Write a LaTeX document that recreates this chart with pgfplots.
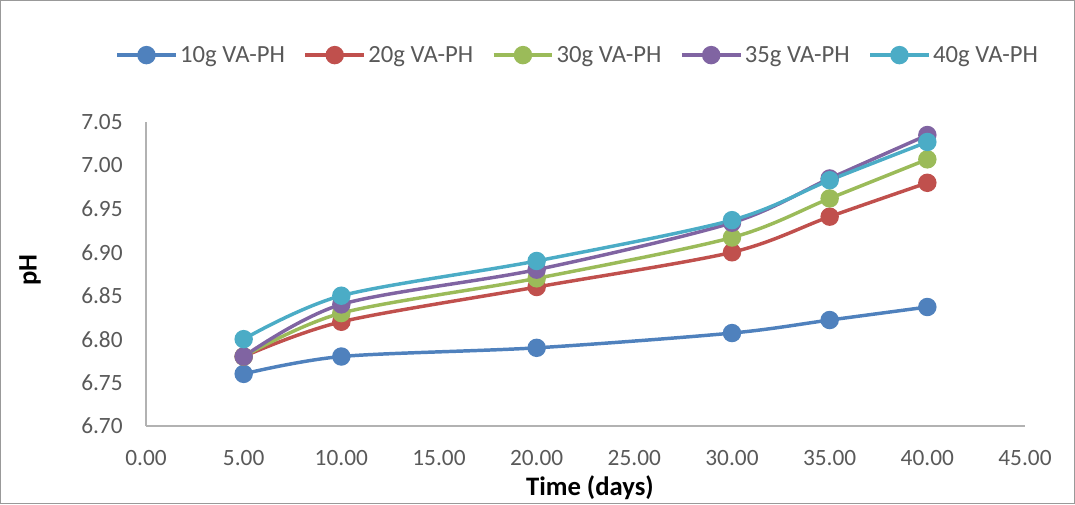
\documentclass[border=0pt]{standalone}
\usepackage{fontspec}
\setmainfont{Carlito}
\usepackage{pgfplots}
\pgfplotsset{compat=1.18}
\definecolor{c1}{HTML}{4F81BD}
\definecolor{c2}{HTML}{C0504D}
\definecolor{c3}{HTML}{9BBB59}
\definecolor{c4}{HTML}{8064A2}
\definecolor{c5}{HTML}{4BACC6}
\definecolor{tk}{HTML}{595959}
\begin{document}
\begin{tikzpicture}
\useasboundingbox (-109.5pt,-58.5pt) rectangle (696.75pt,319.5pt);
\draw[black!40, line width=0.8pt] (-108.9pt,-57.9pt) rectangle (696.15pt,318.9pt);
\begin{axis}[
  scale only axis,
  width=659.25pt, height=228pt,
  xmin=0, xmax=45, ymin=6.70, ymax=7.05,
  xtick={0,5,...,45},
  ytick={6.70,6.75,6.80,6.85,6.90,6.95,7.00,7.05},
  axis x line=bottom, axis y line=left,
  axis line style={black!30, line width=1pt, -},
  major tick length=0pt,
  /pgf/number format/assume math mode=true,
  /pgf/number format/.cd, fixed, fixed zerofill, precision=2, /pgfplots/.cd,
  tick label style={font=\fontsize{17.5}{20}\selectfont, text=tk},
  xticklabel style={yshift=-15pt},
  yticklabel style={xshift=-14pt},
  xlabel={Time (days)}, ylabel={pH},
  label style={font=\fontsize{20}{24}\selectfont\bfseries},
  xlabel style={at={(axis description cs:0.505,-0.204)}, anchor=center},
  ylabel style={at={(axis description cs:-0.132,0.513)}, anchor=center},
  legend columns=5,
  legend style={at={(axis description cs:0.4915,1.22)}, anchor=center, draw=none,
    font=\fontsize{18.5}{22}\selectfont, text=tk,
    /tikz/every even column/.append style={column sep=12pt}},
  legend image code/.code={\draw[mark repeat=2,mark phase=2] plot coordinates {(0pt,0pt)(22pt,0pt)(44pt,0pt)};},
  every axis plot/.append style={line width=2.6pt, mark=*, mark size=5.6pt, smooth, tension=0.5},
]
\addplot[c1, mark options={fill=c1, draw=c1}] coordinates {(5,6.76)(10,6.78)(20,6.79)(30,6.807)(35,6.822)(40,6.837)};
\addlegendentry{10g VA-PH}
\addplot[c2, mark options={fill=c2, draw=c2}] coordinates {(5,6.78)(10,6.82)(20,6.86)(30,6.90)(35,6.941)(40,6.980)};
\addlegendentry{20g VA-PH}
\addplot[c3, mark options={fill=c3, draw=c3}] coordinates {(5,6.78)(10,6.83)(20,6.87)(30,6.917)(35,6.962)(40,7.007)};
\addlegendentry{30g VA-PH}
\addplot[c4, mark options={fill=c4, draw=c4}] coordinates {(5,6.78)(10,6.84)(20,6.88)(30,6.934)(35,6.985)(40,7.035)};
\addlegendentry{35g VA-PH}
\addplot[c5, mark options={fill=c5, draw=c5}] coordinates {(5,6.80)(10,6.85)(20,6.89)(30,6.937)(35,6.983)(40,7.027)};
\addlegendentry{40g VA-PH}
\end{axis}
\end{tikzpicture}
\end{document}
